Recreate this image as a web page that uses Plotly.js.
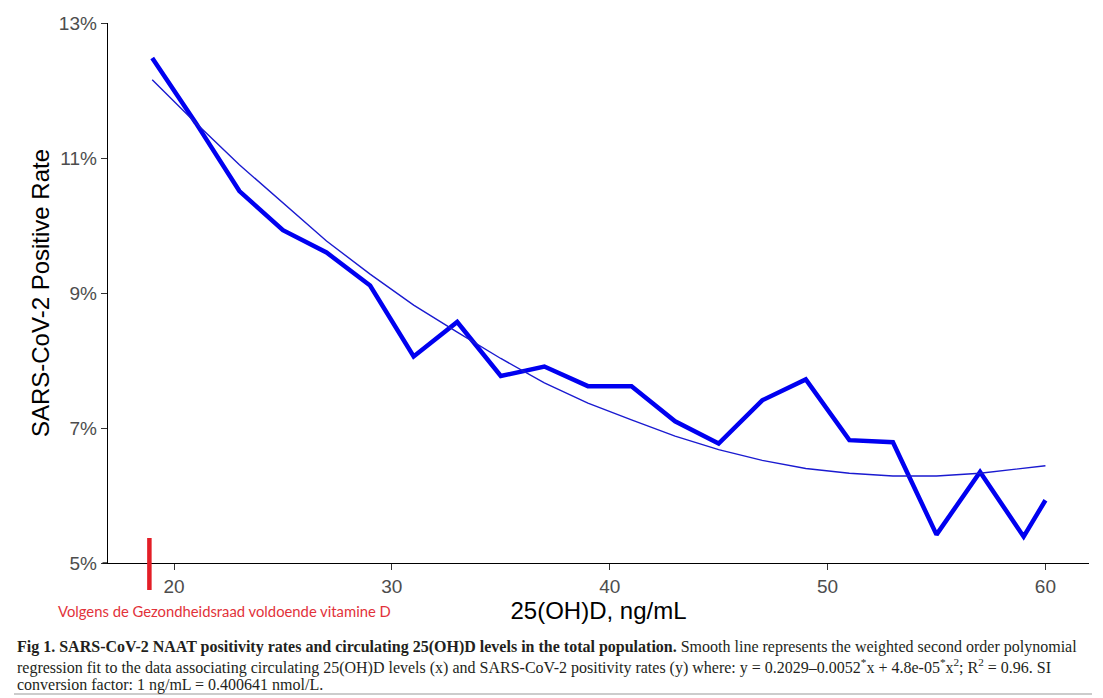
<!DOCTYPE html>
<html>
<head>
<meta charset="utf-8">
<script src="https://cdn.plot.ly/plotly-3.0.1.min.js"></script>
<style>html,body{margin:0;padding:0;background:#fff;}#chart{width:1103px;height:698px;}</style>
</head>
<body>
<div id="chart"></div>
<script>
// 25(OH)D levels, ng/mL
const vitD = [19, 21, 23, 25, 27, 29, 31, 33, 35, 37, 39, 41, 43, 45, 47, 49, 51, 53, 55, 57, 59, 60];
// observed SARS-CoV-2 positivity rate
const positivity = [0.1248, 0.1152, 0.1051, 0.0993, 0.0960, 0.0911, 0.0806, 0.0857, 0.0777, 0.0791, 0.0762, 0.0762, 0.0710, 0.0677, 0.0741, 0.0772, 0.0682, 0.0679, 0.0542, 0.0635, 0.0539, 0.0593];
// weighted second order polynomial fit
const fitted = [0.1216, 0.1152, 0.1090, 0.1033, 0.0977, 0.0928, 0.0882, 0.0842, 0.0803, 0.0767, 0.0737, 0.0712, 0.0688, 0.0668, 0.0652, 0.0640, 0.0633, 0.0629, 0.0629, 0.0633, 0.0640, 0.0644];
const yTicks = [0.05, 0.07, 0.09, 0.11, 0.13];
const xTicks = [20, 30, 40, 50, 60];
const markerX = 18.87; // red marker: Gezondheidsraad sufficiency level

const L = 108, R = 1089, T = 23, B = 563;
const W = R - L, H = B - T;
const px = v => (v - L) / W;
const py = v => (B - v) / H;

const traces = [
  {x: vitD, y: positivity, type: 'scatter', mode: 'lines',
   line: {color: '#0000F0', width: 4.5}, hoverinfo: 'x+y'},
  {x: vitD, y: fitted, type: 'scatter', mode: 'lines',
   line: {color: '#1A1AD0', width: 1.4}, hoverinfo: 'x+y'}
];

const capFont = {family: '"Liberation Serif", "Times New Roman", serif', size: 16, color: '#231F20'};

const layout = {
  width: 1103, height: 698,
  margin: {l: L, r: 1103 - R, t: T, b: 698 - B, pad: 0},
  paper_bgcolor: '#ffffff', plot_bgcolor: '#ffffff',
  showlegend: false,
  font: {family: '"Liberation Sans", Arial, sans-serif'},
  xaxis: {
    range: [16.97, 62.0],
    tickvals: xTicks, ticktext: xTicks.map(String),
    showgrid: false, zeroline: false,
    showline: true, linecolor: '#000', linewidth: 1.3,
    ticks: 'outside', ticklen: 6, tickcolor: '#333', tickwidth: 1,
    tickfont: {size: 19, color: '#4D4D4D'},
    title: {text: '25(OH)D, ng/mL', font: {size: 24, color: '#000'}, standoff: 6}
  },
  yaxis: {
    range: [0.05, 0.13],
    tickvals: yTicks, tickformat: '.0%',
    showgrid: false, zeroline: false,
    showline: true, linecolor: '#000', linewidth: 1.3,
    ticks: 'outside', ticklen: 6, tickcolor: '#333', tickwidth: 1,
    tickfont: {size: 19, color: '#4D4D4D'},
    title: {text: 'SARS-CoV-2 Positive Rate', font: {size: 24, color: '#000'}, standoff: 2}
  },
  shapes: [
    {type: 'line', xref: 'paper', yref: 'paper', x0: px(102.5), x1: 0, y0: 0, y1: 0,
     line: {color: '#000', width: 1.3}},
    {type: 'line', xref: 'x', yref: 'paper', x0: markerX, x1: markerX, y0: py(538), y1: py(590),
     line: {color: '#E31E27', width: 4.5}},
    {type: 'line', xref: 'paper', yref: 'paper', x0: px(14), x1: px(1092), y0: py(694), y1: py(694),
     line: {color: '#9a9a9a', width: 1.2}}
  ],
  annotations: [
    {xref: 'paper', yref: 'paper', x: px(56), y: py(611), xanchor: 'left', yanchor: 'middle',
     text: 'Volgens de Gezondheidsraad voldoende vitamine D', showarrow: false,
     font: {family: 'Lato, "Open Sans", sans-serif', size: 14.8, color: '#E2323A'}},
    {xref: 'paper', yref: 'paper', x: px(15), y: py(647), xanchor: 'left', yanchor: 'middle', showarrow: false,
     font: capFont,
     text: '<b>Fig 1. SARS-CoV-2 NAAT positivity rates and circulating 25(OH)D levels in the total population.</b> Smooth line represents the weighted second order polynomial'},
    {xref: 'paper', yref: 'paper', x: px(15), y: py(666), xanchor: 'left', yanchor: 'middle', showarrow: false,
     font: capFont,
     text: 'regression fit to the data associating circulating 25(OH)D levels (x) and SARS-CoV-2 positivity rates (y) where: y = 0.2029–0.0052<sup>*</sup>x + 4.8e-05<sup>*</sup>x<sup>2</sup>; R<sup>2</sup> = 0.96. SI'},
    {xref: 'paper', yref: 'paper', x: px(15), y: py(685), xanchor: 'left', yanchor: 'middle', showarrow: false,
     font: capFont,
     text: 'conversion factor: 1 ng/mL = 0.400641 nmol/L.'}
  ]
};

Plotly.newPlot('chart', traces, layout, {displayModeBar: false, staticPlot: true});
</script>
</body>
</html>
